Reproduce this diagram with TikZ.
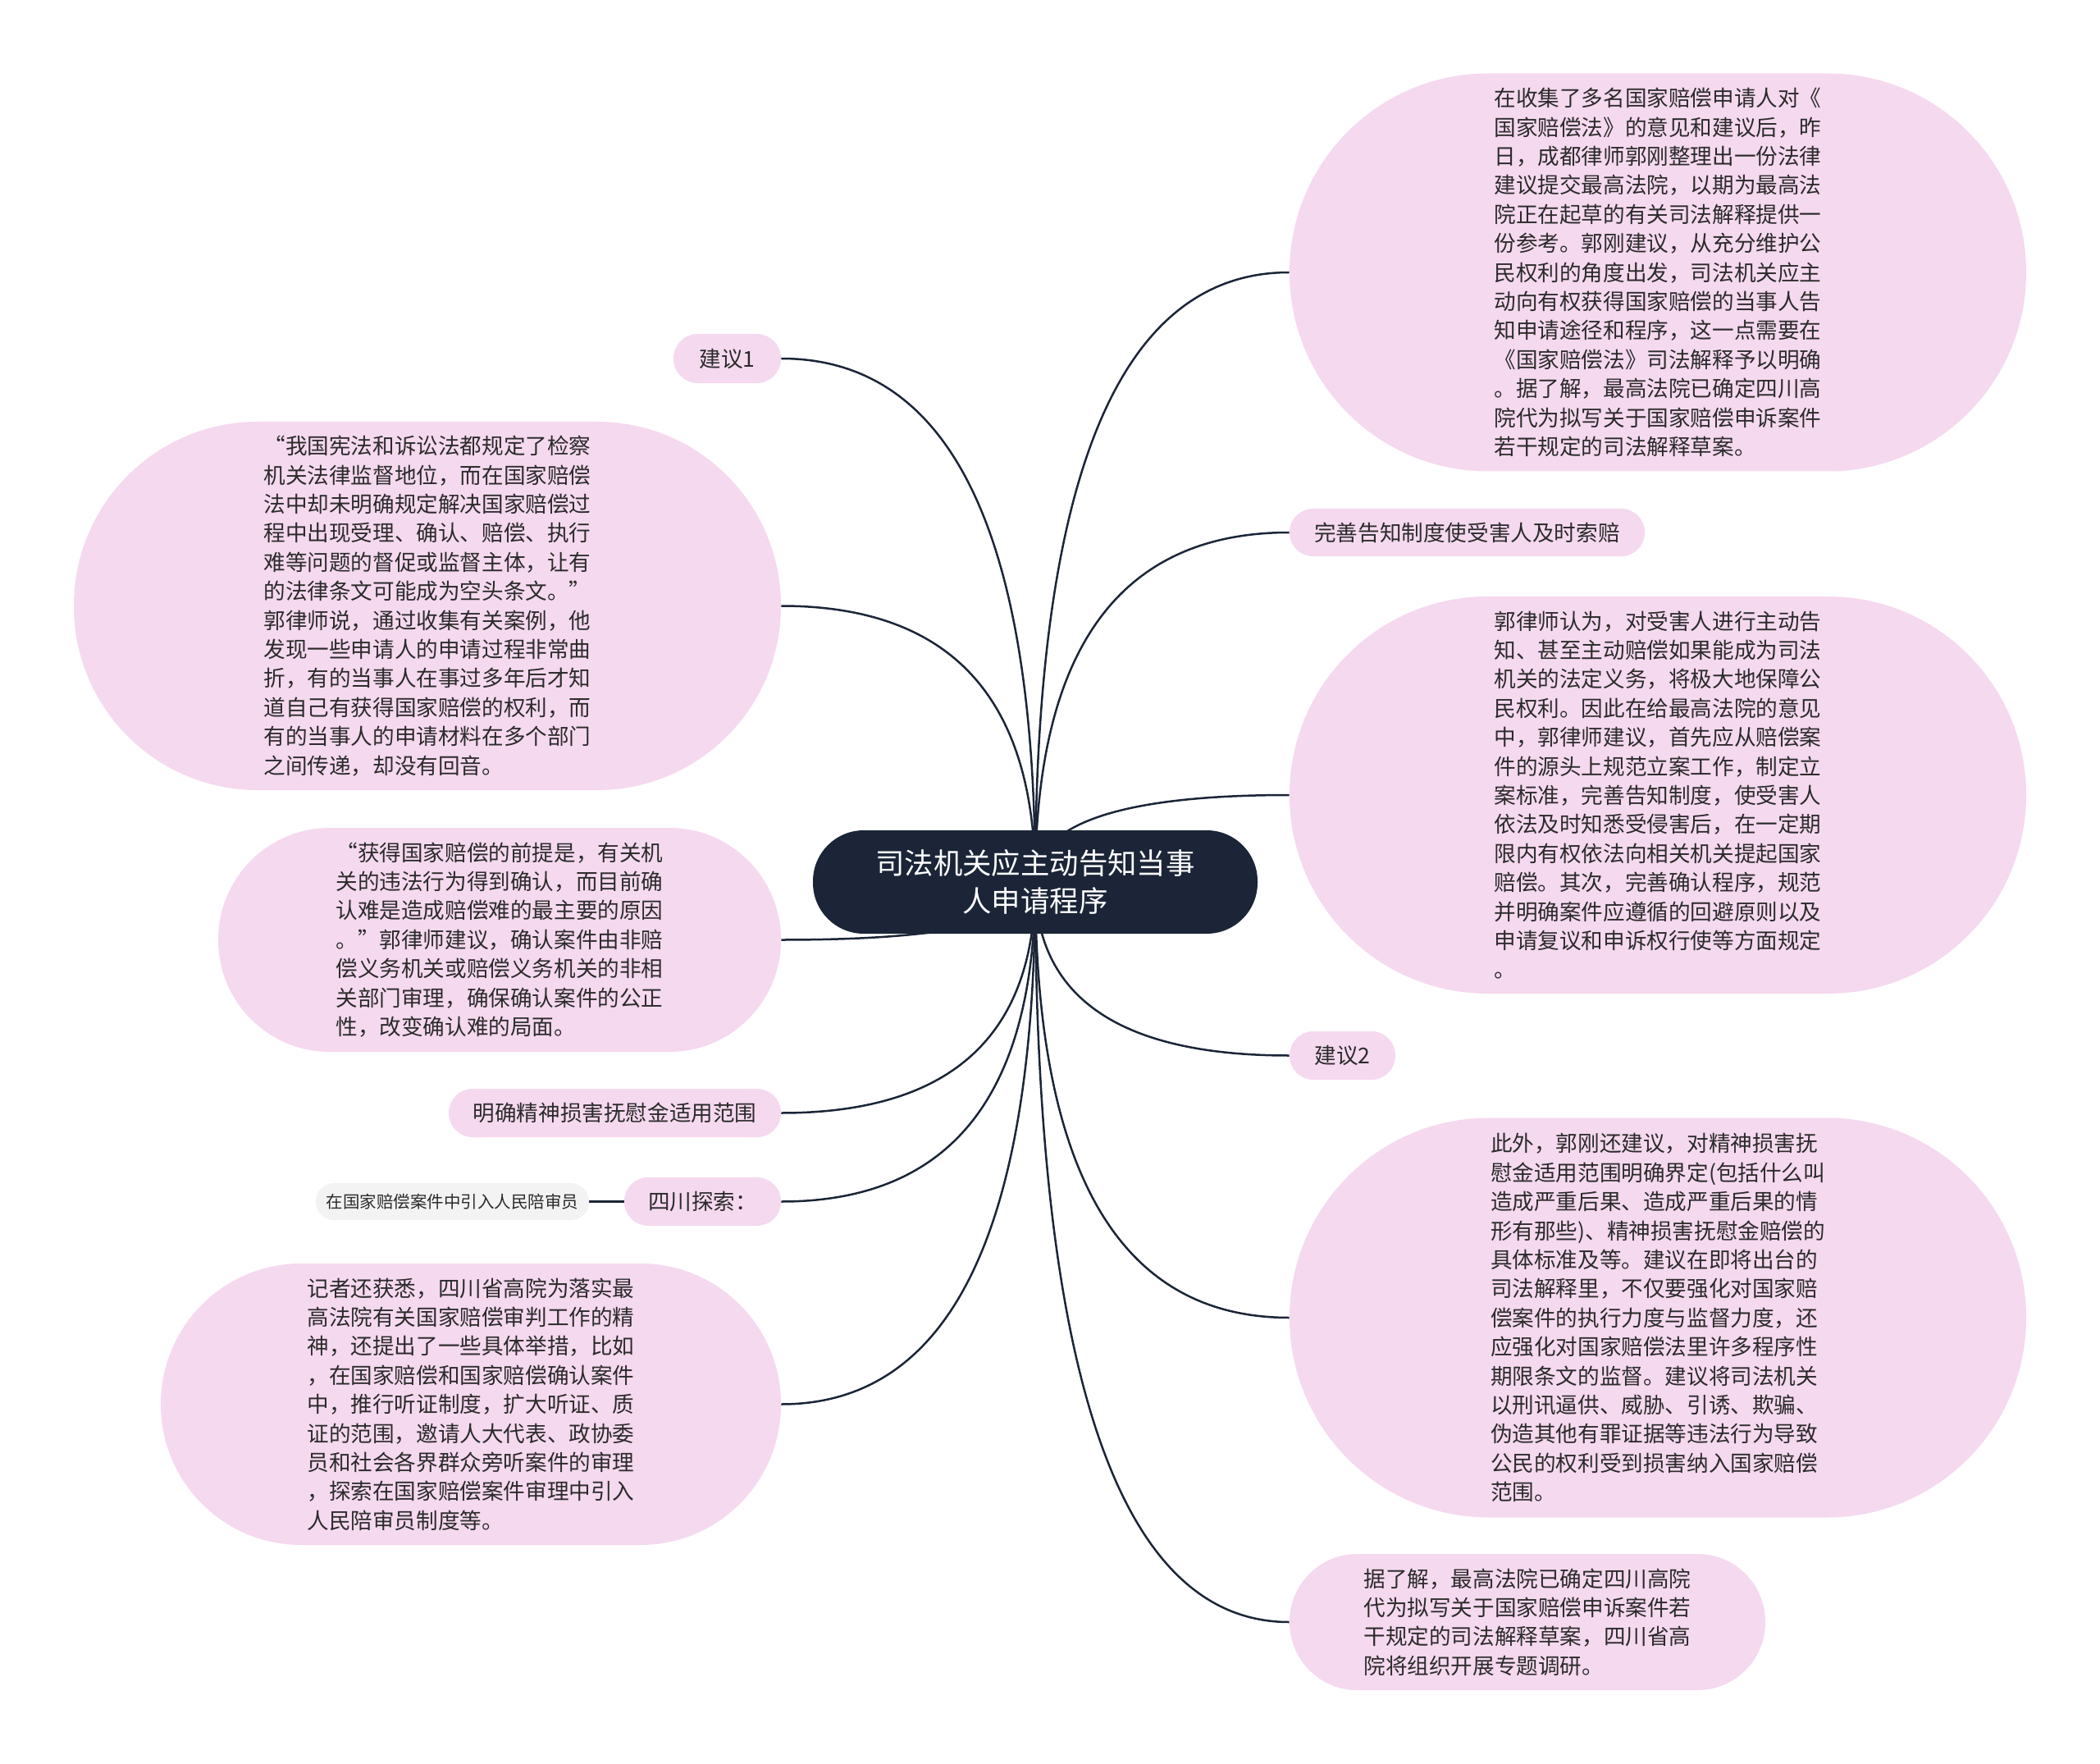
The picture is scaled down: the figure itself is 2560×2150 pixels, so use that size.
\documentclass[tikz,border=0pt]{standalone}
\usepackage{fontspec}
\setmainfont{Noto Sans CJK SC}
\usepackage{tikz}
\usetikzlibrary{calc,backgrounds}
\definecolor{bubblePink}{HTML}{F5D9EF}
\definecolor{hubNavy}{HTML}{1B2537}
\definecolor{inkGrey}{HTML}{2B2B2B}
\definecolor{leafGrey}{HTML}{F3F3F3}
\newcommand{\pxu}{0.5pt}
\tikzset{
  bubble/.style 2 args={fill=bubblePink, text=inkGrey, inner sep=0pt, align=left,
    minimum width=#1*\pxu, minimum height=#2*\pxu, rounded corners=#2*\pxu/2-0.2pt,
    font=\fontsize{13.3pt}{17.7pt}\selectfont},
  link/.style={draw=hubNavy, line width=1.25pt},
}

\begin{document}
\begin{tikzpicture}[x=0.5pt, y=-0.5pt]
  \useasboundingbox (0,0) rectangle (2560,2150);
  % centre topic
  \node[fill=hubNavy, text=white, align=center, inner sep=0pt,
        minimum width=542*\pxu, minimum height=126*\pxu, rounded corners=62*\pxu,
        font=\fontsize{17.7pt}{22.9pt}\selectfont] (hub) at (1262,1075)
    {司法机关应主动告知当事\\人申请程序};

  % right side
  \node[bubble={898}{485}] (guogang) at (2021,332)
    {在收集了多名国家赔偿申请人对《\\国家赔偿法》的意见和建议后，昨\\日，成都律师郭刚整理出一份法律\\建议提交最高法院，以期为最高法\\院正在起草的有关司法解释提供一\\份参考。郭刚建议，从充分维护公\\民权利的角度出发，司法机关应主\\动向有权获得国家赔偿的当事人告\\知申请途径和程序，这一点需要在\\《国家赔偿法》司法解释予以明确\\。据了解，最高法院已确定四川高\\院代为拟写关于国家赔偿申诉案件\\若干规定的司法解释草案。};
  \node[bubble={433}{58}] (gaozhi) at (1788.5,649) {完善告知制度使受害人及时索赔};
  \node[bubble={898}{484}] (guolawyer) at (2021,969)
    {郭律师认为，对受害人进行主动告\\知、甚至主动赔偿如果能成为司法\\机关的法定义务，将极大地保障公\\民权利。因此在给最高法院的意见\\中，郭律师建议，首先应从赔偿案\\件的源头上规范立案工作，制定立\\案标准，完善告知制度，使受害人\\依法及时知悉受侵害后，在一定期\\限内有权依法向相关机关提起国家\\赔偿。其次，完善确认程序，规范\\并明确案件应遵循的回避原则以及\\申请复议和申诉权行使等方面规定\\。};
  \node[bubble={129}{59}] (jy2) at (1636.5,1286.5) {建议2};
  \node[bubble={898}{487}] (fuwei) at (2021,1606)
    {此外，郭刚还建议，对精神损害抚\\慰金适用范围明确界定(包括什么叫\\造成严重后果、造成严重后果的情\\形有那些)、精神损害抚慰金赔偿的\\具体标准及等。建议在即将出台的\\司法解释里，不仅要强化对国家赔\\偿案件的执行力度与监督力度，还\\应强化对国家赔偿法里许多程序性\\期限条文的监督。建议将司法机关\\以刑讯逼供、威胁、引诱、欺骗、\\伪造其他有罪证据等违法行为导致\\公民的权利受到损害纳入国家赔偿\\范围。};
  \node[bubble={580}{166}] (gaoyuan) at (1862,1977)
    {据了解，最高法院已确定四川高院\\代为拟写关于国家赔偿申诉案件若\\干规定的司法解释草案，四川省高\\院将组织开展专题调研。};

  % left side
  \node[bubble={131}{60}] (jy1) at (886.5,437) {建议1};
  \node[bubble={862}{449}] (jiancha) at (521,738.5)
    {“我国宪法和诉讼法都规定了检察\\机关法律监督地位，而在国家赔偿\\法中却未明确规定解决国家赔偿过\\程中出现受理、确认、赔偿、执行\\难等问题的督促或监督主体，让有\\的法律条文可能成为空头条文。”\\郭律师说，通过收集有关案例，他\\发现一些申请人的申请过程非常曲\\折，有的当事人在事过多年后才知\\道自己有获得国家赔偿的权利，而\\有的当事人的申请材料在多个部门\\之间传递，却没有回音。};
  \node[bubble={686}{273}] (queren) at (609,1145.5)
    {“获得国家赔偿的前提是，有关机\\关的违法行为得到确认，而目前确\\认难是造成赔偿难的最主要的原因\\。”郭律师建议，确认案件由非赔\\偿义务机关或赔偿义务机关的非相\\关部门审理，确保确认案件的公正\\性，改变确认难的局面。};
  \node[bubble={405}{59}] (jingshen) at (749.5,1356.5) {明确精神损害抚慰金适用范围};
  \node[bubble={191}{59}] (sichuan) at (856.5,1464.5) {四川探索：};
  \node[bubble={333}{45}, fill=leafGrey, font=\fontsize{10.25pt}{13pt}\selectfont]
    (peishen) at (551.5,1464.5) {在国家赔偿案件中引入人民陪审员};
  \node[bubble={756}{343}] (jizhe) at (574,1711.5)
    {记者还获悉，四川省高院为落实最\\高法院有关国家赔偿审判工作的精\\神，还提出了一些具体举措，比如\\，在国家赔偿和国家赔偿确认案件\\中，推行听证制度，扩大听证、质\\证的范围，邀请人大代表、政协委\\员和社会各界群众旁听案件的审理\\，探索在国家赔偿案件审理中引入\\人民陪审员制度等。};

  % connectors
  \begin{scope}[on background layer]
    \foreach \leaf/\side in {guogang/west, gaozhi/west, guolawyer/west, jy2/west, fuwei/west, gaoyuan/west,
                             jy1/east, jiancha/east, queren/east, jingshen/east, sichuan/east, jizhe/east}{
      \coordinate (bend) at (hub.center |- \leaf.\side);
      \draw[link] (hub.center) .. controls ($(hub.center)!0.667!(bend)$) and ($(\leaf.\side)!0.667!(bend)$) .. (\leaf.\side);
    }
    \draw[link] (peishen.east) -- (sichuan.west);
  \end{scope}
\end{tikzpicture}
\end{document}
